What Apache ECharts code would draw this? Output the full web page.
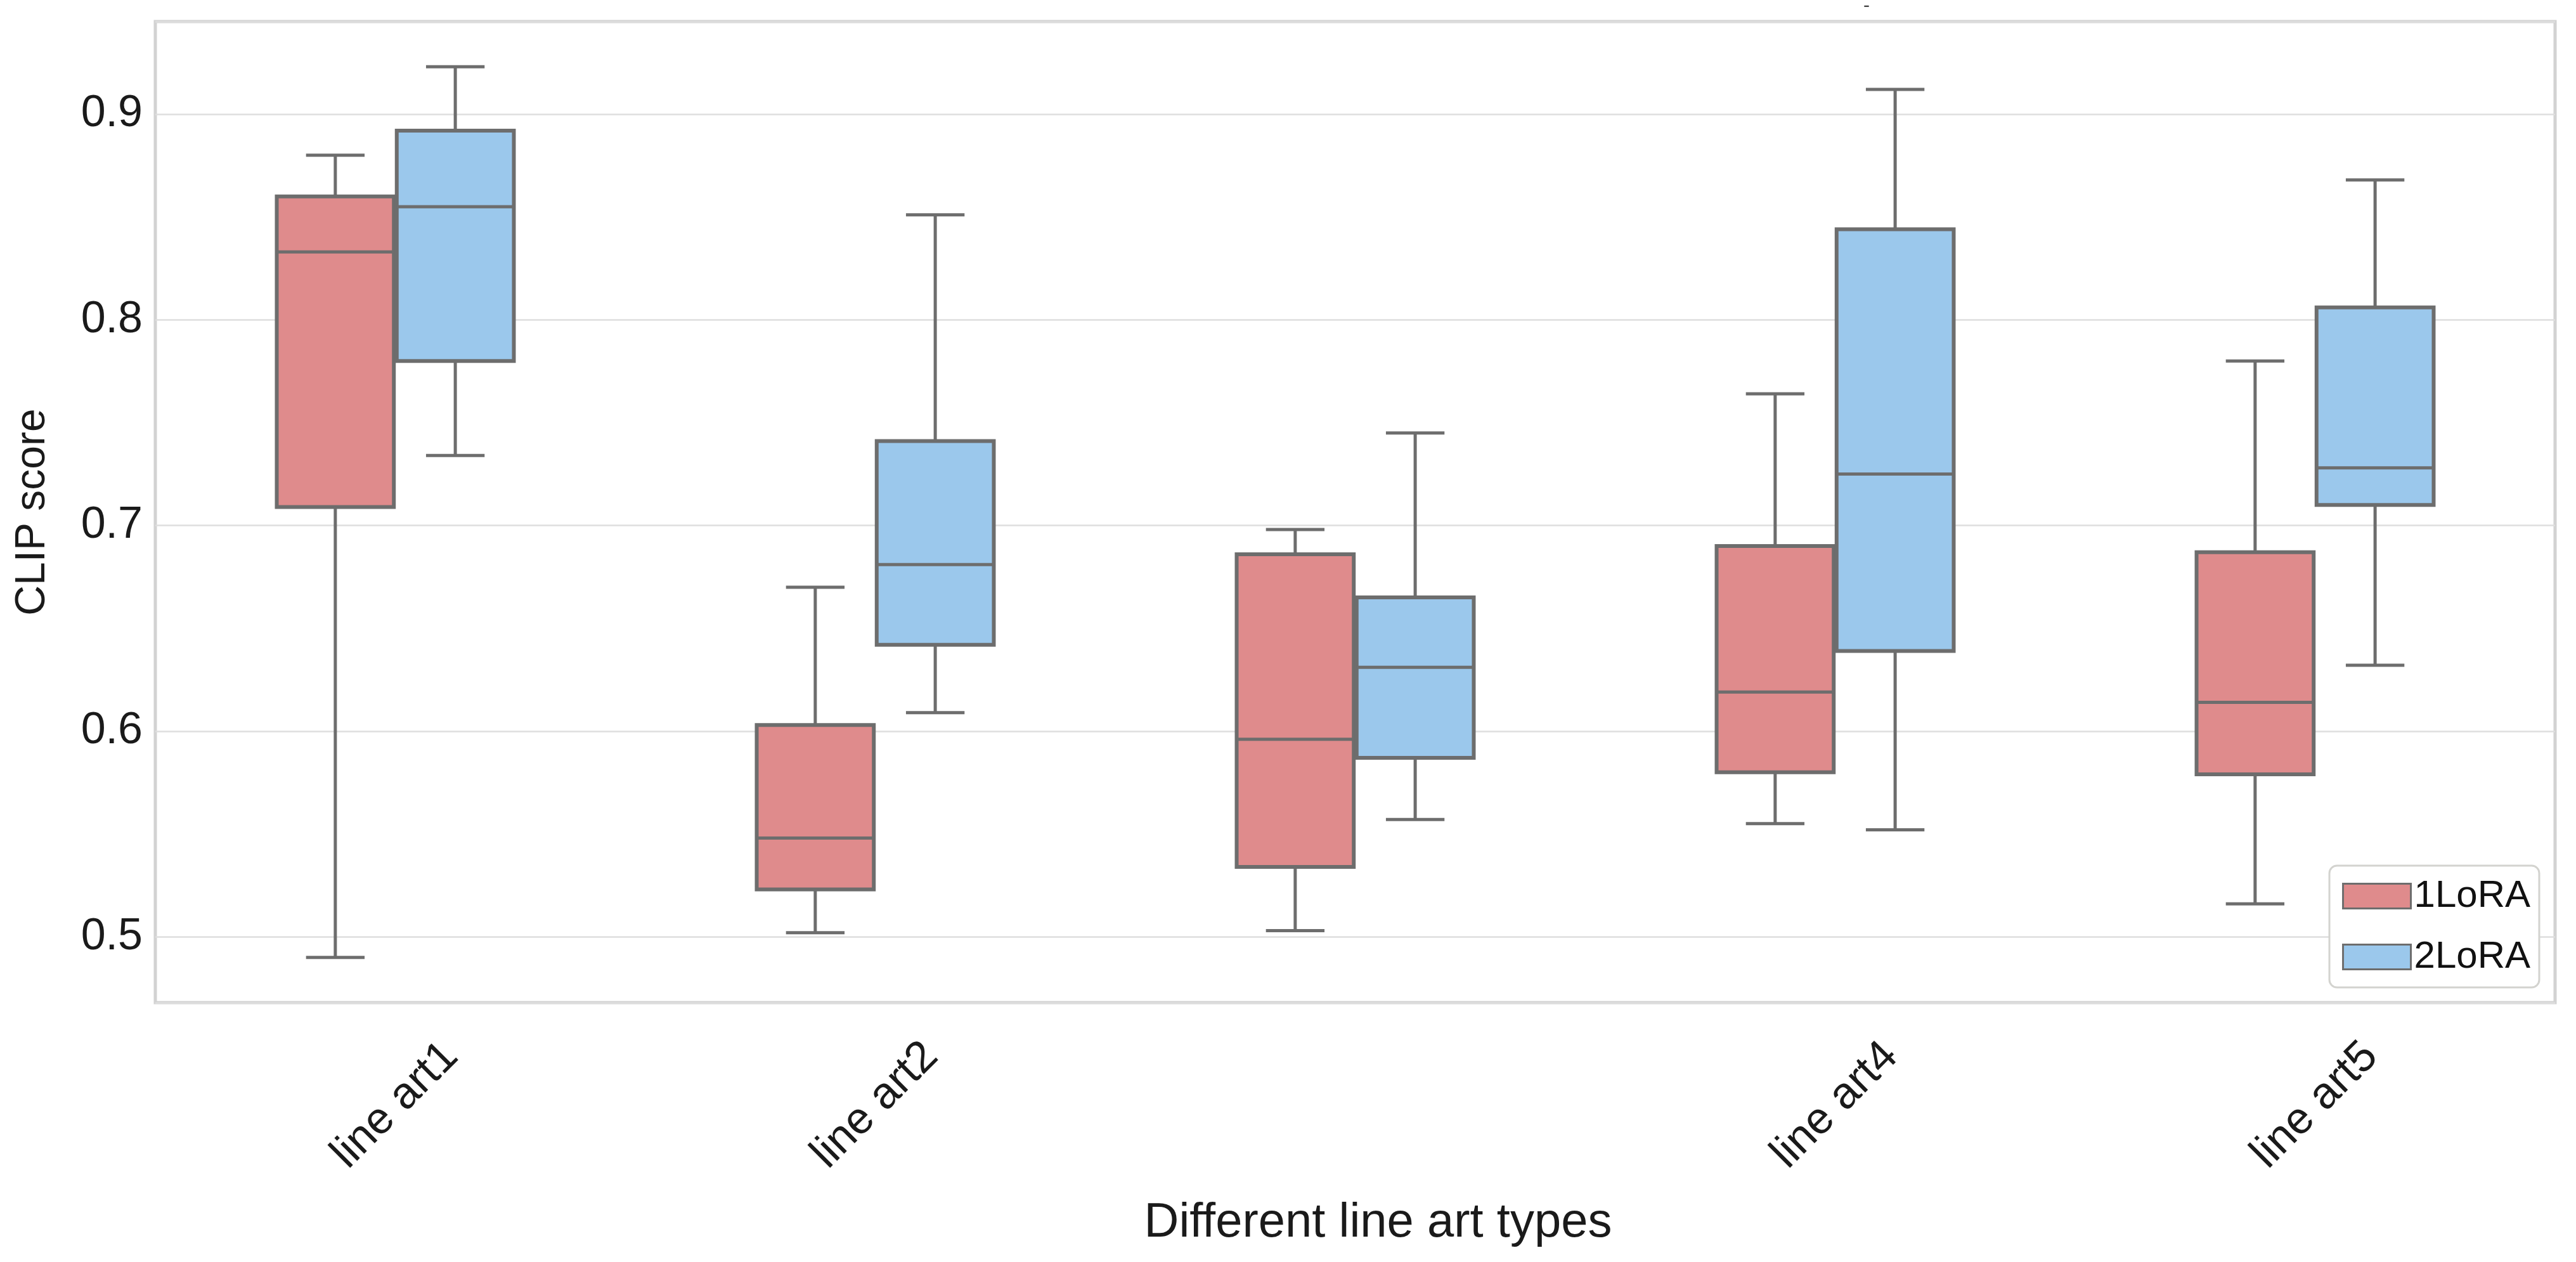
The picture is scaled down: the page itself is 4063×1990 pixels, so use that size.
<!DOCTYPE html>
<html><head><meta charset="utf-8">
<script src="https://cdn.jsdelivr.net/npm/echarts@6/dist/echarts.min.js"></script>
<style>html,body{margin:0;padding:0;background:#fff}#chart{width:4063px;height:1990px}</style>
</head><body><div id="chart"></div>
<script>
const categories = ['line art1', 'line art2', 'line art3', 'line art4', 'line art5'];
const tickLabels = ['line art1', 'line art2', '', 'line art4', 'line art5'];
const seriesNames = ['1LoRA', '2LoRA'];
// each entry: [min, Q1, median, Q3, max]
const lora1Stats = [
  [0.490, 0.709, 0.833, 0.860, 0.880],
  [0.502, 0.523, 0.548, 0.603, 0.670],
  [0.503, 0.534, 0.596, 0.686, 0.698],
  [0.555, 0.580, 0.619, 0.690, 0.764],
  [0.516, 0.579, 0.614, 0.687, 0.780]
];
const lora2Stats = [
  [0.734, 0.780, 0.855, 0.892, 0.923],
  [0.609, 0.642, 0.681, 0.741, 0.851],
  [0.557, 0.587, 0.631, 0.665, 0.745],
  [0.552, 0.639, 0.725, 0.844, 0.912],
  [0.632, 0.710, 0.728, 0.806, 0.868]
];
const yTicks = [0.5, 0.6, 0.7, 0.8, 0.9];

const FONT = "'Liberation Sans', Arial, Helvetica, sans-serif";
const LINE = '#6d6d6d';
const colors = ['#df8b8c', '#9bc8ec'];

function makeSeries(name, stats, offsetFrac, color) {
  return {
    type: 'custom',
    name: name,
    data: stats.map((s, i) => [i].concat(s)),
    encode: { x: 0, y: [1, 2, 3, 4, 5] },
    itemStyle: { color: color, borderColor: LINE, borderWidth: 3 },
    renderItem: function (params, api) {
      const i = api.value(0);
      const band = api.size([1, 0])[0];
      const cx = api.coord([i, api.value(3)])[0] + offsetFrac * band;
      const w = 0.244 * band;
      const yMin = api.coord([i, api.value(1)])[1];
      const yQ1 = api.coord([i, api.value(2)])[1];
      const yMed = api.coord([i, api.value(3)])[1];
      const yQ3 = api.coord([i, api.value(4)])[1];
      const yMax = api.coord([i, api.value(5)])[1];
      const ls = { stroke: LINE, lineWidth: 5, fill: null };
      return {
        type: 'group',
        children: [
          { type: 'line', shape: { x1: cx, y1: yQ3, x2: cx, y2: yMax }, style: ls },
          { type: 'line', shape: { x1: cx, y1: yQ1, x2: cx, y2: yMin }, style: ls },
          { type: 'line', shape: { x1: cx - w / 4, y1: yMax, x2: cx + w / 4, y2: yMax }, style: ls },
          { type: 'line', shape: { x1: cx - w / 4, y1: yMin, x2: cx + w / 4, y2: yMin }, style: ls },
          { type: 'rect', shape: { x: cx - w / 2, y: yQ3, width: w, height: yQ1 - yQ3 },
            style: { fill: color, stroke: LINE, lineWidth: 6 } },
          { type: 'line', shape: { x1: cx - w / 2, y1: yMed, x2: cx + w / 2, y2: yMed },
            style: { stroke: LINE, lineWidth: 5 } }
        ]
      };
    }
  };
}

const chart = echarts.init(document.getElementById('chart'), null, { renderer: 'canvas' });
chart.setOption({
  animation: false,
  backgroundColor: '#ffffff',
  title: {
    text: '-', left: 2934, top: -10,
    textStyle: { fontSize: 30, color: '#444', fontWeight: 'normal', fontFamily: FONT }
  },
  grid: {
    left: 245, right: 33, top: 34, bottom: 409,
    show: true, borderColor: '#d2d2d2', borderWidth: 5, backgroundColor: '#ffffff'
  },
  legend: {
    orient: 'vertical', right: 58, bottom: 433,
    selectedMode: false,
    icon: 'rect', itemWidth: 107, itemHeight: 39, itemGap: 36,
    data: seriesNames.map((n, k) => ({
      name: n, itemStyle: { color: colors[k], borderColor: LINE, borderWidth: 3 }
    })),
    textStyle: { fontSize: 60, fontFamily: FONT, color: '#111' },
    padding: [18, 14, 18, 20],
    borderColor: '#d3d3cf', borderWidth: 3, borderRadius: 12, backgroundColor: '#ffffff'
  },
  xAxis: {
    type: 'category',
    data: categories,
    axisLine: { show: false },
    axisTick: { show: false },
    splitLine: { show: false },
    axisLabel: {
      interval: 0, rotate: 45, align: 'center', verticalAlign: 'middle', margin: 162,
      fontSize: 70, fontFamily: FONT, color: '#1a1a1a',
      formatter: (v, i) => tickLabels[i]
    },
    name: 'Different line art types',
    nameLocation: 'middle', nameGap: 310,
    nameTextStyle: { fontSize: 76, fontFamily: FONT, color: '#1a1a1a', padding: [0, 0, 0, 72] }
  },
  yAxis: {
    type: 'value', min: 0.468, max: 0.945, splitNumber: 5,
    axisLine: { show: false },
    axisTick: { show: false },
    splitLine: { show: true, lineStyle: { color: '#dedede', width: 2.5 } },
    axisLabel: {
      fontSize: 70, fontFamily: FONT, color: '#1a1a1a', margin: 20,
      showMinLabel: false, showMaxLabel: false,
      formatter: function (v) {
        for (const t of yTicks) { if (Math.abs(v - t) < 1e-6) return t.toFixed(1); }
        return '';
      }
    },
    name: 'CLIP score', nameLocation: 'middle', nameRotate: 90, nameGap: 160,
    nameTextStyle: { fontSize: 66, fontFamily: FONT, color: '#1a1a1a' }
  },
  series: [
    makeSeries(seriesNames[0], lora1Stats, -0.125, colors[0]),
    makeSeries(seriesNames[1], lora2Stats, 0.125, colors[1])
  ]
});
</script></body></html>
